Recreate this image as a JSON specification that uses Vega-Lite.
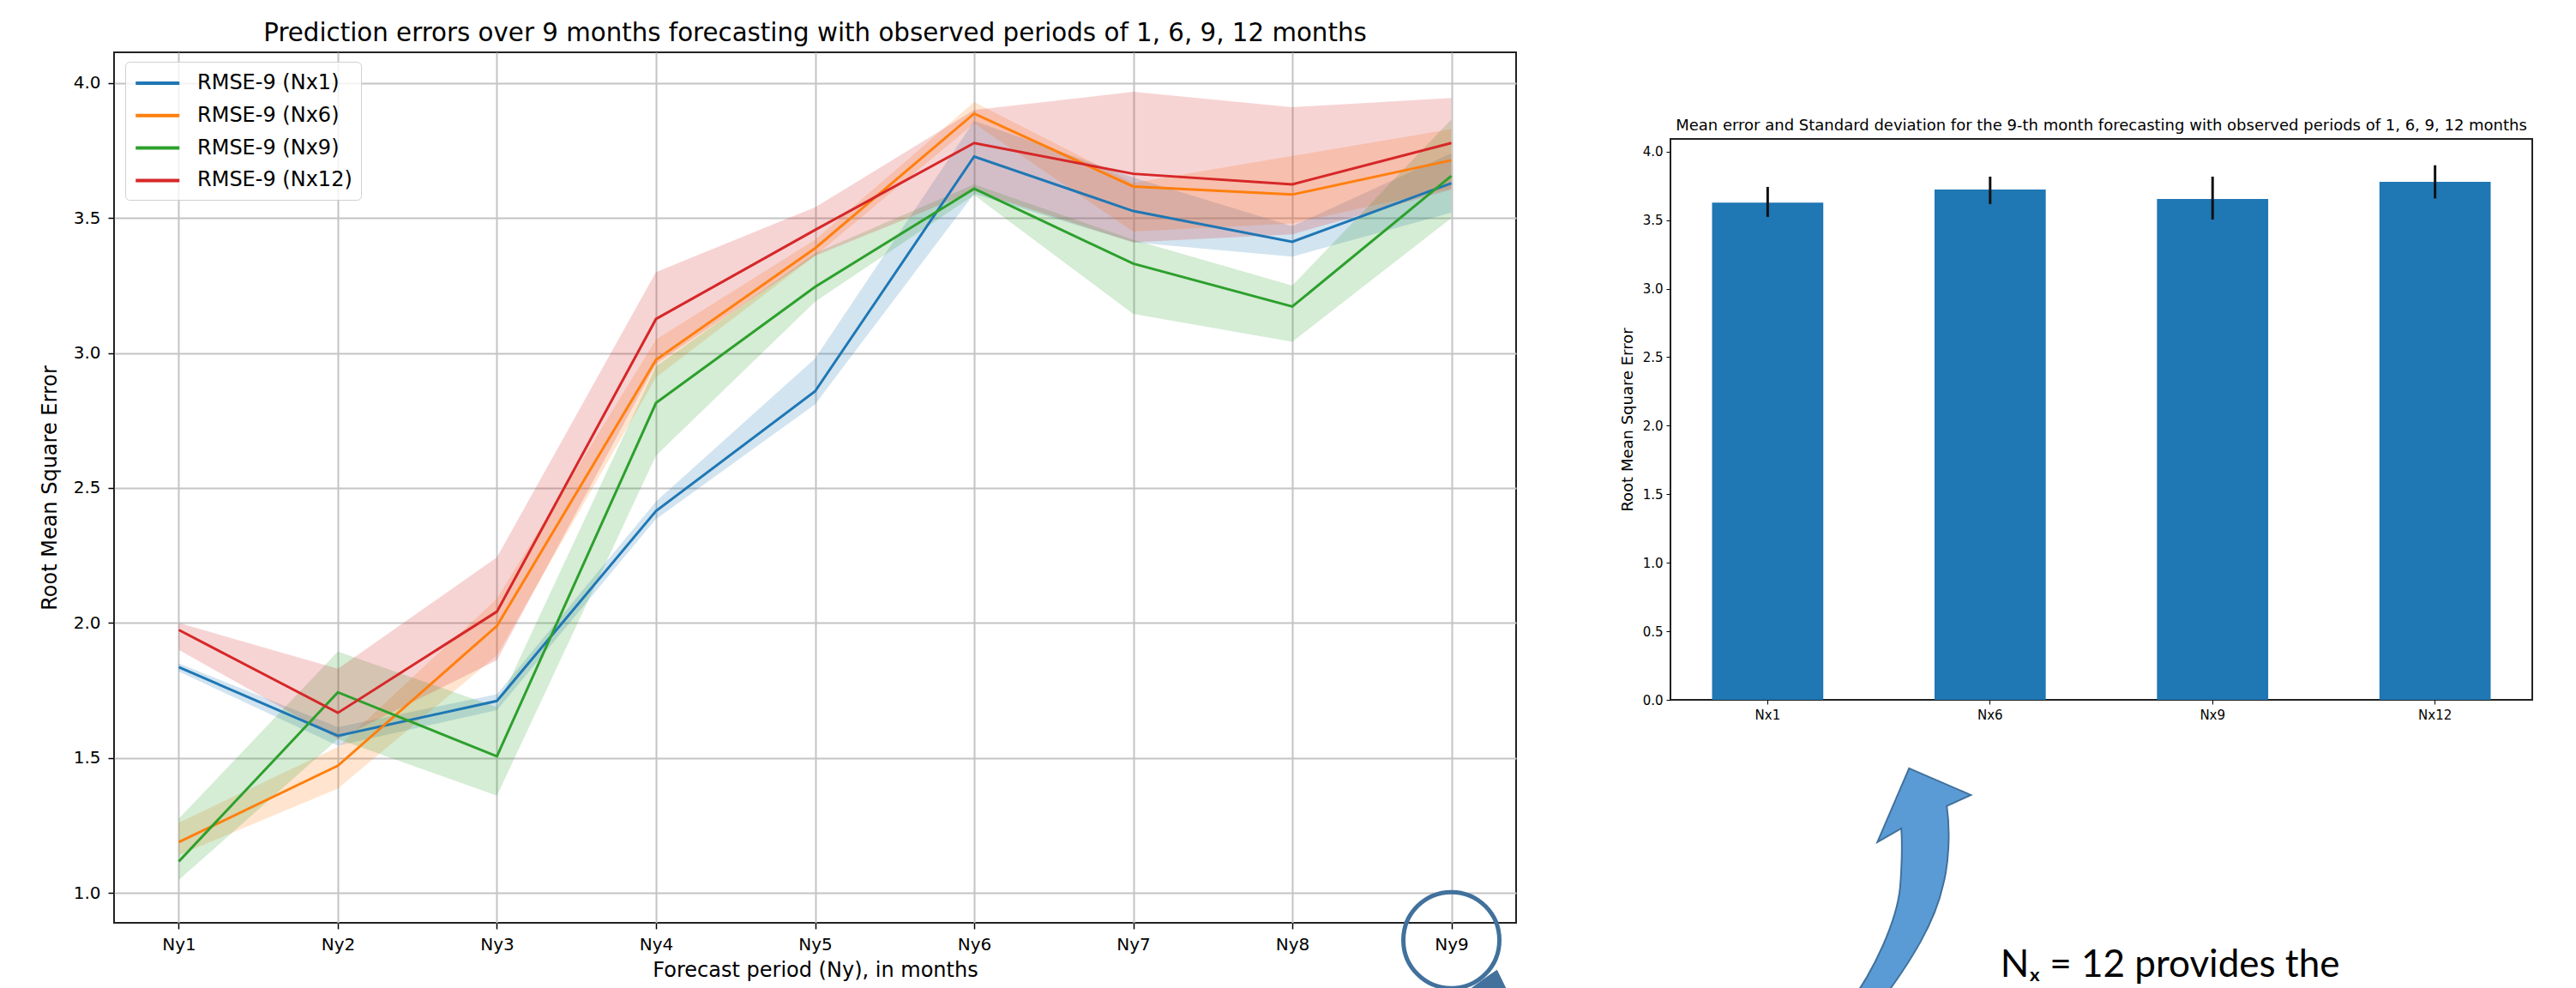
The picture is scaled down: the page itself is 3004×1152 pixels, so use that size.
{
  "$schema": "https://vega.github.io/schema/vega-lite/v6.json",
  "background": "white",
  "padding": {"left": 45, "top": 23, "right": 0, "bottom": 0},
  "spacing": 119,
  "config": {
    "font": "DejaVu Sans",
    "view": {"stroke": "#222", "strokeWidth": 2},
    "axis": {"domain": false, "labelColor": "#000", "titleColor": "#000", "tickColor": "#000", "titleFontWeight": "normal", "labelFont": "DejaVu Sans", "titleFont": "DejaVu Sans"},
    "title": {"font": "DejaVu Sans", "fontWeight": "normal", "color": "#000", "anchor": "middle"}
  },
  "datasets": {
    "lines": [
      {"s": "RMSE-9 (Nx1)", "ny": "Ny1", "v": 1.836, "lo": 1.82, "hi": 1.85},
      {"s": "RMSE-9 (Nx1)", "ny": "Ny2", "v": 1.582, "lo": 1.545, "hi": 1.614},
      {"s": "RMSE-9 (Nx1)", "ny": "Ny3", "v": 1.711, "lo": 1.677, "hi": 1.736},
      {"s": "RMSE-9 (Nx1)", "ny": "Ny4", "v": 2.415, "lo": 2.385, "hi": 2.45},
      {"s": "RMSE-9 (Nx1)", "ny": "Ny5", "v": 2.858, "lo": 2.81, "hi": 2.98},
      {"s": "RMSE-9 (Nx1)", "ny": "Ny6", "v": 3.728, "lo": 3.59, "hi": 3.86},
      {"s": "RMSE-9 (Nx1)", "ny": "Ny7", "v": 3.526, "lo": 3.41, "hi": 3.65},
      {"s": "RMSE-9 (Nx1)", "ny": "Ny8", "v": 3.412, "lo": 3.357, "hi": 3.47},
      {"s": "RMSE-9 (Nx1)", "ny": "Ny9", "v": 3.629, "lo": 3.52, "hi": 3.74},
      {"s": "RMSE-9 (Nx6)", "ny": "Ny1", "v": 1.188, "lo": 1.14, "hi": 1.26},
      {"s": "RMSE-9 (Nx6)", "ny": "Ny2", "v": 1.471, "lo": 1.386, "hi": 1.54},
      {"s": "RMSE-9 (Nx6)", "ny": "Ny3", "v": 1.989, "lo": 1.88, "hi": 2.09},
      {"s": "RMSE-9 (Nx6)", "ny": "Ny4", "v": 2.975, "lo": 2.91, "hi": 3.05},
      {"s": "RMSE-9 (Nx6)", "ny": "Ny5", "v": 3.388, "lo": 3.36, "hi": 3.42},
      {"s": "RMSE-9 (Nx6)", "ny": "Ny6", "v": 3.887, "lo": 3.85, "hi": 3.93},
      {"s": "RMSE-9 (Nx6)", "ny": "Ny7", "v": 3.617, "lo": 3.45, "hi": 3.63},
      {"s": "RMSE-9 (Nx6)", "ny": "Ny8", "v": 3.587, "lo": 3.48, "hi": 3.73},
      {"s": "RMSE-9 (Nx6)", "ny": "Ny9", "v": 3.714, "lo": 3.61, "hi": 3.83},
      {"s": "RMSE-9 (Nx9)", "ny": "Ny1", "v": 1.116, "lo": 1.048, "hi": 1.275},
      {"s": "RMSE-9 (Nx9)", "ny": "Ny2", "v": 1.743, "lo": 1.57, "hi": 1.894},
      {"s": "RMSE-9 (Nx9)", "ny": "Ny3", "v": 1.506, "lo": 1.36, "hi": 1.688},
      {"s": "RMSE-9 (Nx9)", "ny": "Ny4", "v": 2.815, "lo": 2.62, "hi": 2.95},
      {"s": "RMSE-9 (Nx9)", "ny": "Ny5", "v": 3.245, "lo": 3.19, "hi": 3.37},
      {"s": "RMSE-9 (Nx9)", "ny": "Ny6", "v": 3.609, "lo": 3.585, "hi": 3.625},
      {"s": "RMSE-9 (Nx9)", "ny": "Ny7", "v": 3.331, "lo": 3.145, "hi": 3.42},
      {"s": "RMSE-9 (Nx9)", "ny": "Ny8", "v": 3.172, "lo": 3.042, "hi": 3.25},
      {"s": "RMSE-9 (Nx9)", "ny": "Ny9", "v": 3.656, "lo": 3.5, "hi": 3.865},
      {"s": "RMSE-9 (Nx12)", "ny": "Ny1", "v": 1.974, "lo": 1.9, "hi": 2.0},
      {"s": "RMSE-9 (Nx12)", "ny": "Ny2", "v": 1.667, "lo": 1.57, "hi": 1.83},
      {"s": "RMSE-9 (Nx12)", "ny": "Ny3", "v": 2.042, "lo": 1.862, "hi": 2.243},
      {"s": "RMSE-9 (Nx12)", "ny": "Ny4", "v": 3.126, "lo": 2.96, "hi": 3.3},
      {"s": "RMSE-9 (Nx12)", "ny": "Ny5", "v": 3.456, "lo": 3.36, "hi": 3.54},
      {"s": "RMSE-9 (Nx12)", "ny": "Ny6", "v": 3.778, "lo": 3.6, "hi": 3.9},
      {"s": "RMSE-9 (Nx12)", "ny": "Ny7", "v": 3.664, "lo": 3.41, "hi": 3.968},
      {"s": "RMSE-9 (Nx12)", "ny": "Ny8", "v": 3.625, "lo": 3.44, "hi": 3.911},
      {"s": "RMSE-9 (Nx12)", "ny": "Ny9", "v": 3.778, "lo": 3.606, "hi": 3.945}
    ],
    "bars": [
      {"nx": "Nx1", "v": 3.627, "lo": 3.523, "hi": 3.742},
      {"nx": "Nx6", "v": 3.723, "lo": 3.617, "hi": 3.817},
      {"nx": "Nx9", "v": 3.654, "lo": 3.504, "hi": 3.817},
      {"nx": "Nx12", "v": 3.779, "lo": 3.658, "hi": 3.9}
    ],
    "ring": [{"ny": "Ny9", "v": 0.825}],
    "notes": [{"nx": "Nx6", "v": -2.02, "t": "Nₓ = 12 provides the"}],
    "arrow": [{"nx": "Nx6", "v": -1.29}],
    "blank": [{"k": 1}]
  },
  "hconcat": [
    {
      "width": 1635,
      "height": 1015,
      "title": {"text": "Prediction errors over 9 months forecasting with observed periods of 1, 6, 9, 12 months", "fontSize": 29.3, "offset": 7},
      "layer": [
        {
          "data": {"name": "lines"},
          "mark": {"type": "area", "fillOpacity": 0.2, "strokeOpacity": 0},
          "encoding": {
            "x": {"field": "ny", "type": "ordinal", "scale": {"type": "point", "padding": 0.407},
              "axis": {"labelAngle": 0, "labelFontSize": 20, "tickSize": 7, "tickWidth": 1.5, "labelPadding": 8, "title": "Forecast period (Ny), in months", "titleFontSize": 24, "titlePadding": 8, "grid": true, "gridColor": "#c4c4c4", "gridWidth": 2}},
            "y": {"field": "lo", "type": "quantitative", "scale": {"domain": [0.889, 4.114], "nice": false, "zero": false},
              "axis": {"values": [1.0, 1.5, 2.0, 2.5, 3.0, 3.5, 4.0], "format": ".1f", "labelFontSize": 20, "tickSize": 7, "tickWidth": 1.5, "labelPadding": 9, "title": "Root Mean Square Error", "titleFontSize": 24, "titlePadding": 15, "grid": true, "gridColor": "#c4c4c4", "gridWidth": 2}},
            "y2": {"field": "hi"},
            "color": {"field": "s", "type": "nominal", "scale": {"domain": ["RMSE-9 (Nx1)", "RMSE-9 (Nx6)", "RMSE-9 (Nx9)", "RMSE-9 (Nx12)"], "range": ["#1f77b4", "#ff7f0e", "#2ca02c", "#d62728"]},
              "legend": {"title": null, "orient": "none", "legendX": 13, "legendY": 11, "labelFontSize": 24, "labelFont": "DejaVu Sans", "labelColor": "#000", "labelLimit": 500, "symbolType": "M-1,0H3", "symbolSize": 650, "symbolStrokeWidth": 4, "symbolOpacity": 1, "labelOffset": 44, "rowPadding": 10.8, "padding": 10, "strokeColor": "#d0d0d0", "fillColor": "rgba(255,255,255,0.8)", "cornerRadius": 5}}
          }
        },
        {
          "data": {"name": "lines"},
          "mark": {"type": "line", "strokeWidth": 3},
          "encoding": {
            "x": {"field": "ny", "type": "ordinal"},
            "y": {"field": "v", "type": "quantitative"},
            "color": {"field": "s", "type": "nominal",
              "legend": {"title": null, "orient": "none", "legendX": 13, "legendY": 11, "labelFontSize": 24, "labelFont": "DejaVu Sans", "labelColor": "#000", "labelLimit": 500, "symbolType": "M-1,0H3", "symbolSize": 650, "symbolStrokeWidth": 4, "symbolOpacity": 1, "labelOffset": 44, "rowPadding": 10.8, "padding": 10, "strokeColor": "#d0d0d0", "fillColor": "rgba(255,255,255,0.8)", "cornerRadius": 5}}
          }
        },
        {
          "data": {"name": "ring"},
          "mark": {"type": "point", "shape": "circle", "size": 12544, "filled": false, "stroke": "#41719c", "strokeWidth": 5, "opacity": 1},
          "encoding": {
            "x": {"field": "ny", "type": "ordinal"},
            "y": {"field": "v", "type": "quantitative"}
          }
        },
        {
          "data": {"name": "ring"},
          "mark": {"type": "point", "shape": "M0.61,0.7L0.83,0.55L1.05,1.0L0.2,1.0Z", "size": 16384, "filled": true, "fill": "#41719c", "stroke": "#41719c", "strokeWidth": 1, "opacity": 1},
          "encoding": {
            "x": {"field": "ny", "type": "ordinal"},
            "y": {"field": "v", "type": "quantitative"}
          }
        }
      ]
    },
    {
      "spacing": 0,
      "vconcat": [
        {
          "width": 1005,
          "height": 76,
          "view": {"stroke": null},
          "data": {"name": "blank"},
          "mark": {"type": "point", "opacity": 0},
          "encoding": {}
        },
        {
          "width": 1005,
          "height": 654,
          "title": {"text": "Mean error and Standard deviation for the 9-th month forecasting with observed periods of 1, 6, 9, 12 months", "fontSize": 18, "offset": 6},
          "layer": [
            {
              "data": {"name": "bars"},
              "mark": {"type": "bar", "color": "#1f77b4"},
              "encoding": {
                "x": {"field": "nx", "type": "nominal", "sort": null, "scale": {"paddingInner": 0.5, "paddingOuter": 0.187},
                  "axis": {"title": null, "labelAngle": 0, "labelFontSize": 15, "tickSize": 5, "labelPadding": 5, "grid": false}},
                "y": {"field": "v", "type": "quantitative", "scale": {"domain": [0, 4.092], "nice": false},
                  "axis": {"values": [0, 0.5, 1.0, 1.5, 2.0, 2.5, 3.0, 3.5, 4.0], "format": ".1f", "labelFontSize": 15, "tickSize": 5, "labelPadding": 4, "title": "Root Mean Square Error", "titleFontSize": 18, "titlePadding": 8, "grid": false}}
              }
            },
            {
              "data": {"name": "bars"},
              "mark": {"type": "rule", "color": "#111", "strokeWidth": 3},
              "encoding": {
                "x": {"field": "nx", "type": "nominal", "sort": null},
                "y": {"field": "lo", "type": "quantitative"},
                "y2": {"field": "hi"}
              }
            },
            {
              "data": {"name": "arrow"},
              "mark": {"type": "point", "shape": "M-0.738,-0.987L-0.176,-0.744L-0.395,-0.643C-0.36,-0.4 -0.38,-0.1 -0.43,0.08C-0.5,0.4 -0.7,0.75 -1.03,1.185L-1.3,1.185C-1.05,0.85 -0.85,0.4 -0.82,0.1C-0.8,-0.15 -0.8,-0.3 -0.809,-0.44L-1.027,-0.315Z", "size": 65536, "filled": true, "fill": "#5b9bd5", "stroke": "#41719c", "strokeWidth": 2, "opacity": 1, "fillOpacity": 1},
              "encoding": {
                "x": {"field": "nx", "type": "nominal", "sort": null},
                "y": {"field": "v", "type": "quantitative"}
              }
            },
            {
              "data": {"name": "notes"},
              "mark": {"type": "text", "align": "left", "baseline": "alphabetic", "dx": 12, "fontSize": 44, "font": "Lato", "color": "#000"},
              "encoding": {
                "x": {"field": "nx", "type": "nominal", "sort": null},
                "y": {"field": "v", "type": "quantitative"},
                "text": {"field": "t"}
              }
            }
          ]
        }
      ]
    }
  ]
}
